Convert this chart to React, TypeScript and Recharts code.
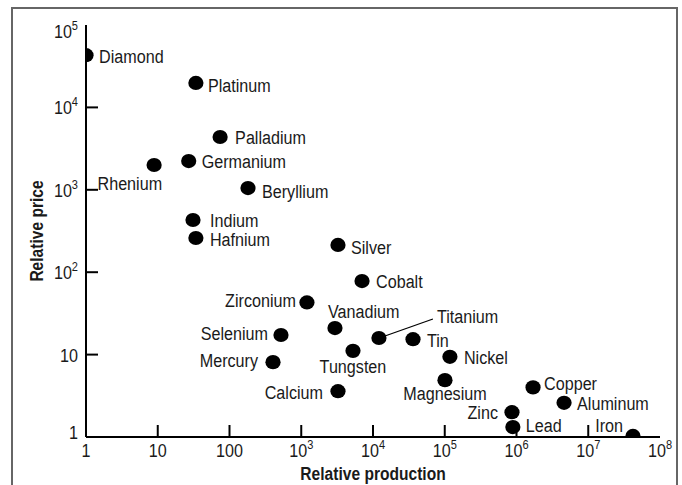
import React from "react";
import { ScatterChart, Scatter, XAxis, YAxis, Label } from "recharts";

const FONT = "'Liberation Sans', Arial, sans-serif";

// element names, relative production (x) and relative price (y)
const ELEMENTS = [
  "Diamond", "Platinum", "Palladium", "Germanium", "Rhenium", "Beryllium",
  "Indium", "Hafnium", "Silver", "Cobalt", "Zirconium", "Vanadium",
  "Selenium", "Titanium", "Tin", "Tungsten", "Nickel", "Mercury",
  "Magnesium", "Calcium", "Copper", "Aluminum", "Zinc", "Lead", "Iron",
];
const PRODUCTION = [
  1, 34, 74, 27, 8.9, 181,
  31, 34, 3250, 7030, 1200, 2950,
  522, 12100, 36100, 5260, 118000, 404,
  100700, 3250, 1.7e6, 4.6e6, 8.65e5, 8.9e5, 4.2e7,
];
const PRICE = [
  43000, 19800, 4370, 2230, 2000, 1050,
  430, 260, 214, 78, 43, 21,
  17.3, 15.9, 15.4, 11.1, 9.4, 8.1,
  4.9, 3.6, 4.0, 2.6, 2.0, 1.32, 1.03,
];

const X_TICKS = [1, 10, 100, 1e3, 1e4, 1e5, 1e6, 1e7, 1e8];
const Y_TICKS = [1, 10, 100, 1e3, 1e4, 1e5];

const data = ELEMENTS.map((name, i) => ({ name, prod: PRODUCTION[i], price: PRICE[i] }));

// label placement relative to dot centre: [dx, dy, anchor]
const LABEL_POS: Record<string, [number, number, string]> = {
  Diamond: [13, 1, "start"],
  Platinum: [12, 2, "start"],
  Palladium: [15, 0, "start"],
  Germanium: [13, 0, "start"],
  Rhenium: [8, 18, "end"],
  Beryllium: [14, 3, "start"],
  Indium: [17, 0, "start"],
  Hafnium: [14, 1, "start"],
  Silver: [13, 2, "start"],
  Cobalt: [14, 0, "start"],
  Zirconium: [-11, -2, "end"],
  Vanadium: [-7, -17, "start"],
  Selenium: [-13, -2, "end"],
  Titanium: [58, -22, "start"],
  Tin: [14, 1, "start"],
  Tungsten: [0, 15, "middle"],
  Nickel: [14, 0, "start"],
  Mercury: [-15, -2, "end"],
  Magnesium: [0, 13, "middle"],
  Calcium: [-15, 1, "end"],
  Copper: [11, -4, "start"],
  Aluminum: [13, 0, "start"],
  Zinc: [-14, 0, "end"],
  Lead: [13, -2, "start"],
  Iron: [-10, -11, "end"],
};

// condensed text: Liberation Sans squeezed horizontally
const T = ({ x, y, anchor = "start", size = 19, bold = false, rotate = 0, sx = 0.85, children }: any) => (
  <text
    transform={`translate(${x},${y}) rotate(${rotate}) scale(${sx},1)`}
    textAnchor={anchor}
    fontSize={size}
    fontWeight={bold ? "bold" : "normal"}
    fontFamily={FONT}
    fill="#1a1a1a"
  >
    {children}
  </text>
);

const exp = (v: number) => Math.round(Math.log10(v));

const tickText = (v: number, x: number, y: number, anchor: string) => {
  const e = exp(v);
  if (e <= (anchor === "end" ? 1 : 2)) {
    return <T x={x} y={y} anchor={anchor}>{String(v)}</T>;
  }
  return (
    <T x={x} y={y} anchor={anchor}>
      10
      <tspan dy={-8} fontSize={13}>{e}</tspan>
    </T>
  );
};

const BottomTick = (props: any) => {
  const { x, y, payload } = props;
  const e = exp(payload.value);
  return (
    <g>
      {e > 0 && e < 8 && <line x1={x} y1={y} x2={x} y2={y - 12} stroke="#000" strokeWidth={2} />}
      {tickText(payload.value, x, y + 20, "middle")}
    </g>
  );
};

const LeftTick = (props: any) => {
  const { x, y, payload } = props;
  const e = exp(payload.value);
  const nudge = e === 5 ? 6 : e === 0 ? -5 : 0;
  return (
    <g>
      {e > 0 && e < 5 && <line x1={x} y1={y} x2={x + 12} y2={y} stroke="#000" strokeWidth={2} />}
      {tickText(payload.value, x - 8, y + 7 + nudge, "end")}
    </g>
  );
};

const TopTick = (props: any) => {
  const { x, y } = props;
  return <line x1={x} y1={y} x2={x} y2={y + 12} stroke="#000" strokeWidth={2} />;
};

const RightTick = (props: any) => {
  const { x, y } = props;
  return <line x1={x} y1={y} x2={x - 12} y2={y} stroke="#000" strokeWidth={2} />;
};

const Dot = (props: any) => {
  const { cx, cy, payload } = props;
  const [dx, dy, anchor] = LABEL_POS[payload.name] || [13, 0, "start"];
  return (
    <g>
      <ellipse cx={cx} cy={cy} rx={7.6} ry={7.1} fill="#000" />
      {payload.name === "Titanium" && (
        <line x1={cx + 6} y1={cy - 2} x2={cx + 54} y2={cy - 19} stroke="#000" strokeWidth={1.3} />
      )}
      <T x={cx + dx} y={cy + dy + 7} anchor={anchor}>{payload.name}</T>
    </g>
  );
};

export default function App() {
  return (
    <div style={{ position: "absolute", left: 0, top: 0, width: 682, height: 485, overflow: "hidden", background: "#fff" }}>
      <div
        style={{
          position: "absolute", left: 11, top: 7, width: 667, height: 500,
          border: "2px solid #666", boxSizing: "border-box",
        }}
      />
      <div style={{ position: "absolute", left: 0, top: 0 }}>
        <ScatterChart width={682} height={485} margin={{ top: 25, right: 22, bottom: 8, left: 26 }}>
          <XAxis
            xAxisId="b"
            dataKey="prod"
            type="number"
            scale="log"
            domain={[1, 1e8]}
            ticks={X_TICKS}
            allowDataOverflow
            height={40}
            tickSize={0}
            tickMargin={0}
            tickLine={false}
            axisLine={{ stroke: "#000", strokeWidth: 2 }}
            tick={<BottomTick />}
            interval={0}
          >
            <Label
              content={(p: any) => {
                const vb = p.viewBox;
                return (
                  <T x={vb.x + vb.width / 2} y={480} anchor="middle" bold sx={0.82}>
                    Relative production
                  </T>
                );
              }}
            />
          </XAxis>
          <XAxis
            xAxisId="t"
            orientation="top"
            dataKey="prod"
            type="number"
            scale="log"
            domain={[1, 1e8]}
            ticks={[10, 100, 1e3, 1e4, 1e5, 1e6, 1e7]}
            allowDataOverflow
            height={0}
            tickSize={0}
            tickMargin={0}
            tickLine={false}
            axisLine={{ stroke: "#000", strokeWidth: 2 }}
            tick={<TopTick />}
            interval={0}
          />
          <YAxis
            yAxisId="l"
            dataKey="price"
            type="number"
            scale="log"
            domain={[1, 1e5]}
            ticks={Y_TICKS}
            allowDataOverflow
            width={60}
            tickSize={0}
            tickMargin={0}
            tickLine={false}
            axisLine={{ stroke: "#000", strokeWidth: 2 }}
            tick={<LeftTick />}
            interval={0}
          >
            <Label
              content={(p: any) => {
                const vb = p.viewBox;
                const cy = vb.y + vb.height / 2;
                return (
                  <T x={43} y={cy} rotate={-90} anchor="middle" bold sx={0.82}>
                    Relative price
                  </T>
                );
              }}
            />
          </YAxis>
          <YAxis
            yAxisId="r"
            orientation="right"
            dataKey="price"
            type="number"
            scale="log"
            domain={[1, 1e5]}
            ticks={[10, 100, 1e3, 1e4]}
            allowDataOverflow
            width={0}
            tickSize={0}
            tickMargin={0}
            tickLine={false}
            axisLine={{ stroke: "#000", strokeWidth: 2 }}
            tick={<RightTick />}
            interval={0}
          />
          <Scatter data={data} xAxisId="b" yAxisId="l" shape={<Dot />} isAnimationActive={false} />
        </ScatterChart>
      </div>
    </div>
  );
}
